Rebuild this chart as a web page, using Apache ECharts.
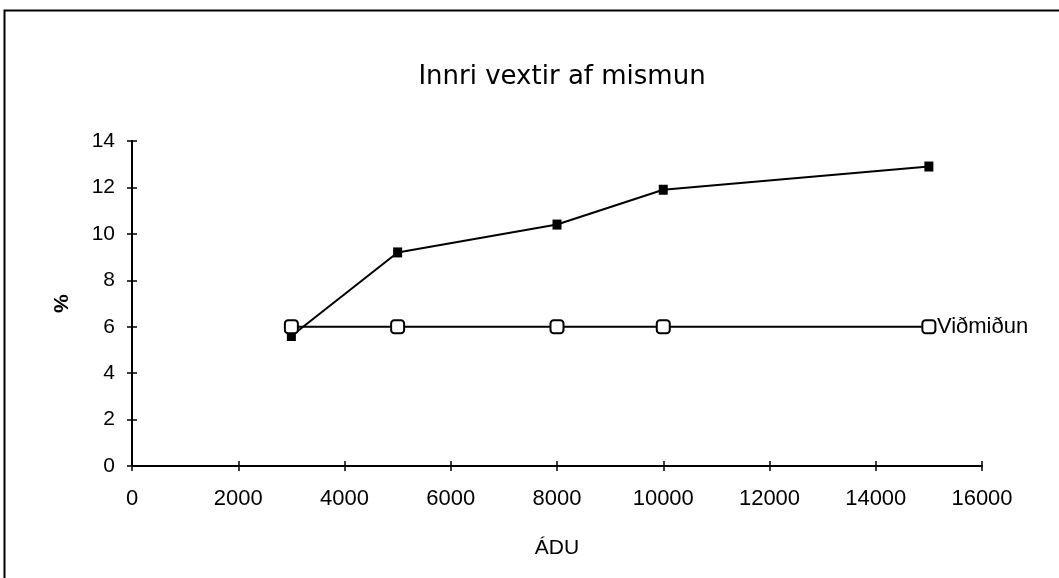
<!DOCTYPE html>
<html>
<head>
<meta charset="utf-8">
<script src="https://cdn.jsdelivr.net/npm/echarts@6/dist/echarts.min.js"></script>
<style>html,body{margin:0;padding:0;background:#fff}#c{width:1059px;height:578px}</style>
</head>
<body>
<div id="c"></div>
<script>
const titleText = 'Innri vextir af mismun';
const xName = 'ÁDU';
const yName = '%';
const xValues = [3000, 5000, 8000, 10000, 15000];
const innriVextir = [5.6, 9.2, 10.4, 11.9, 12.9];
const vidmidun = [6.0, 6.0, 6.0, 6.0, 6.0];
const vidmidunLabel = 'Viðmiðun';

const font = 'Liberation Sans, Arial, sans-serif';
const chart = echarts.init(document.getElementById('c'));
const pairs = (xs, ys) => xs.map((x, i) => [x, ys[i]]);
const baseX = {type: 'value', min: 0, max: 16000, interval: 2000};
const baseY = {type: 'value', min: 0, max: 14, interval: 2};
chart.setOption({
  animation: false,
  backgroundColor: '#fff',
  title: {text: titleText, left: 557, textAlign: 'center', top: 59,
    textStyle: {fontFamily: 'DejaVu Sans', fontSize: 26, fontWeight: 'normal', color: '#000'}},
  grid: {left: 132, right: 77, top: 141, bottom: 112},
  graphic: [{type: 'rect', shape: {x: 4.5, y: 10.5, width: 1080, height: 600},
    style: {fill: 'none', stroke: '#000', lineWidth: 2}, silent: true}],
  xAxis: [
    Object.assign({}, baseX, {
      name: xName, nameLocation: 'middle', nameGap: 72,
      nameTextStyle: {fontFamily: font, fontSize: 21, color: '#000'},
      axisLine: {lineStyle: {color: '#000', width: 2}},
      axisTick: {length: 5, lineStyle: {color: '#000', width: 1.5}},
      axisLabel: {fontFamily: font, fontSize: 22, color: '#000', margin: 22,
        formatter: v => String(v)},
      splitLine: {show: false}
    }),
    Object.assign({}, baseX, {
      position: 'bottom',
      axisLine: {show: false},
      axisTick: {inside: true, length: 5, lineStyle: {color: '#000', width: 1.5}},
      axisLabel: {show: false}, splitLine: {show: false}
    })
  ],
  yAxis: [
    Object.assign({}, baseY, {
      name: yName, nameLocation: 'middle', nameGap: 62, nameRotate: -90,
      nameTextStyle: {fontFamily: font, fontSize: 21, color: '#000', fontWeight: 'bold'},
      axisLine: {show: true, lineStyle: {color: '#000', width: 2}},
      axisTick: {show: true, length: 5, lineStyle: {color: '#000', width: 1.5}},
      axisLabel: {fontFamily: font, fontSize: 21, color: '#000', margin: 17},
      splitLine: {show: false}
    }),
    Object.assign({}, baseY, {
      position: 'left',
      axisLine: {show: false},
      axisTick: {show: true, inside: true, length: 5, lineStyle: {color: '#000', width: 1.5}},
      axisLabel: {show: false}, splitLine: {show: false}
    })
  ],
  series: [
    {type: 'line', data: pairs(xValues, innriVextir), symbol: 'rect', symbolSize: [9, 10],
      lineStyle: {color: '#000', width: 2}, itemStyle: {color: '#000'}, z: 3},
    {type: 'line', name: vidmidunLabel, data: pairs(xValues, vidmidun), symbol: 'roundRect', symbolSize: 13,
      lineStyle: {color: '#000', width: 2}, itemStyle: {color: '#fff', borderColor: '#000', borderWidth: 2}, z: 4,
      endLabel: {show: true, formatter: vidmidunLabel, distance: 8,
        fontFamily: font, fontSize: 22, color: '#000'}}
  ]
});
</script>
</body>
</html>
